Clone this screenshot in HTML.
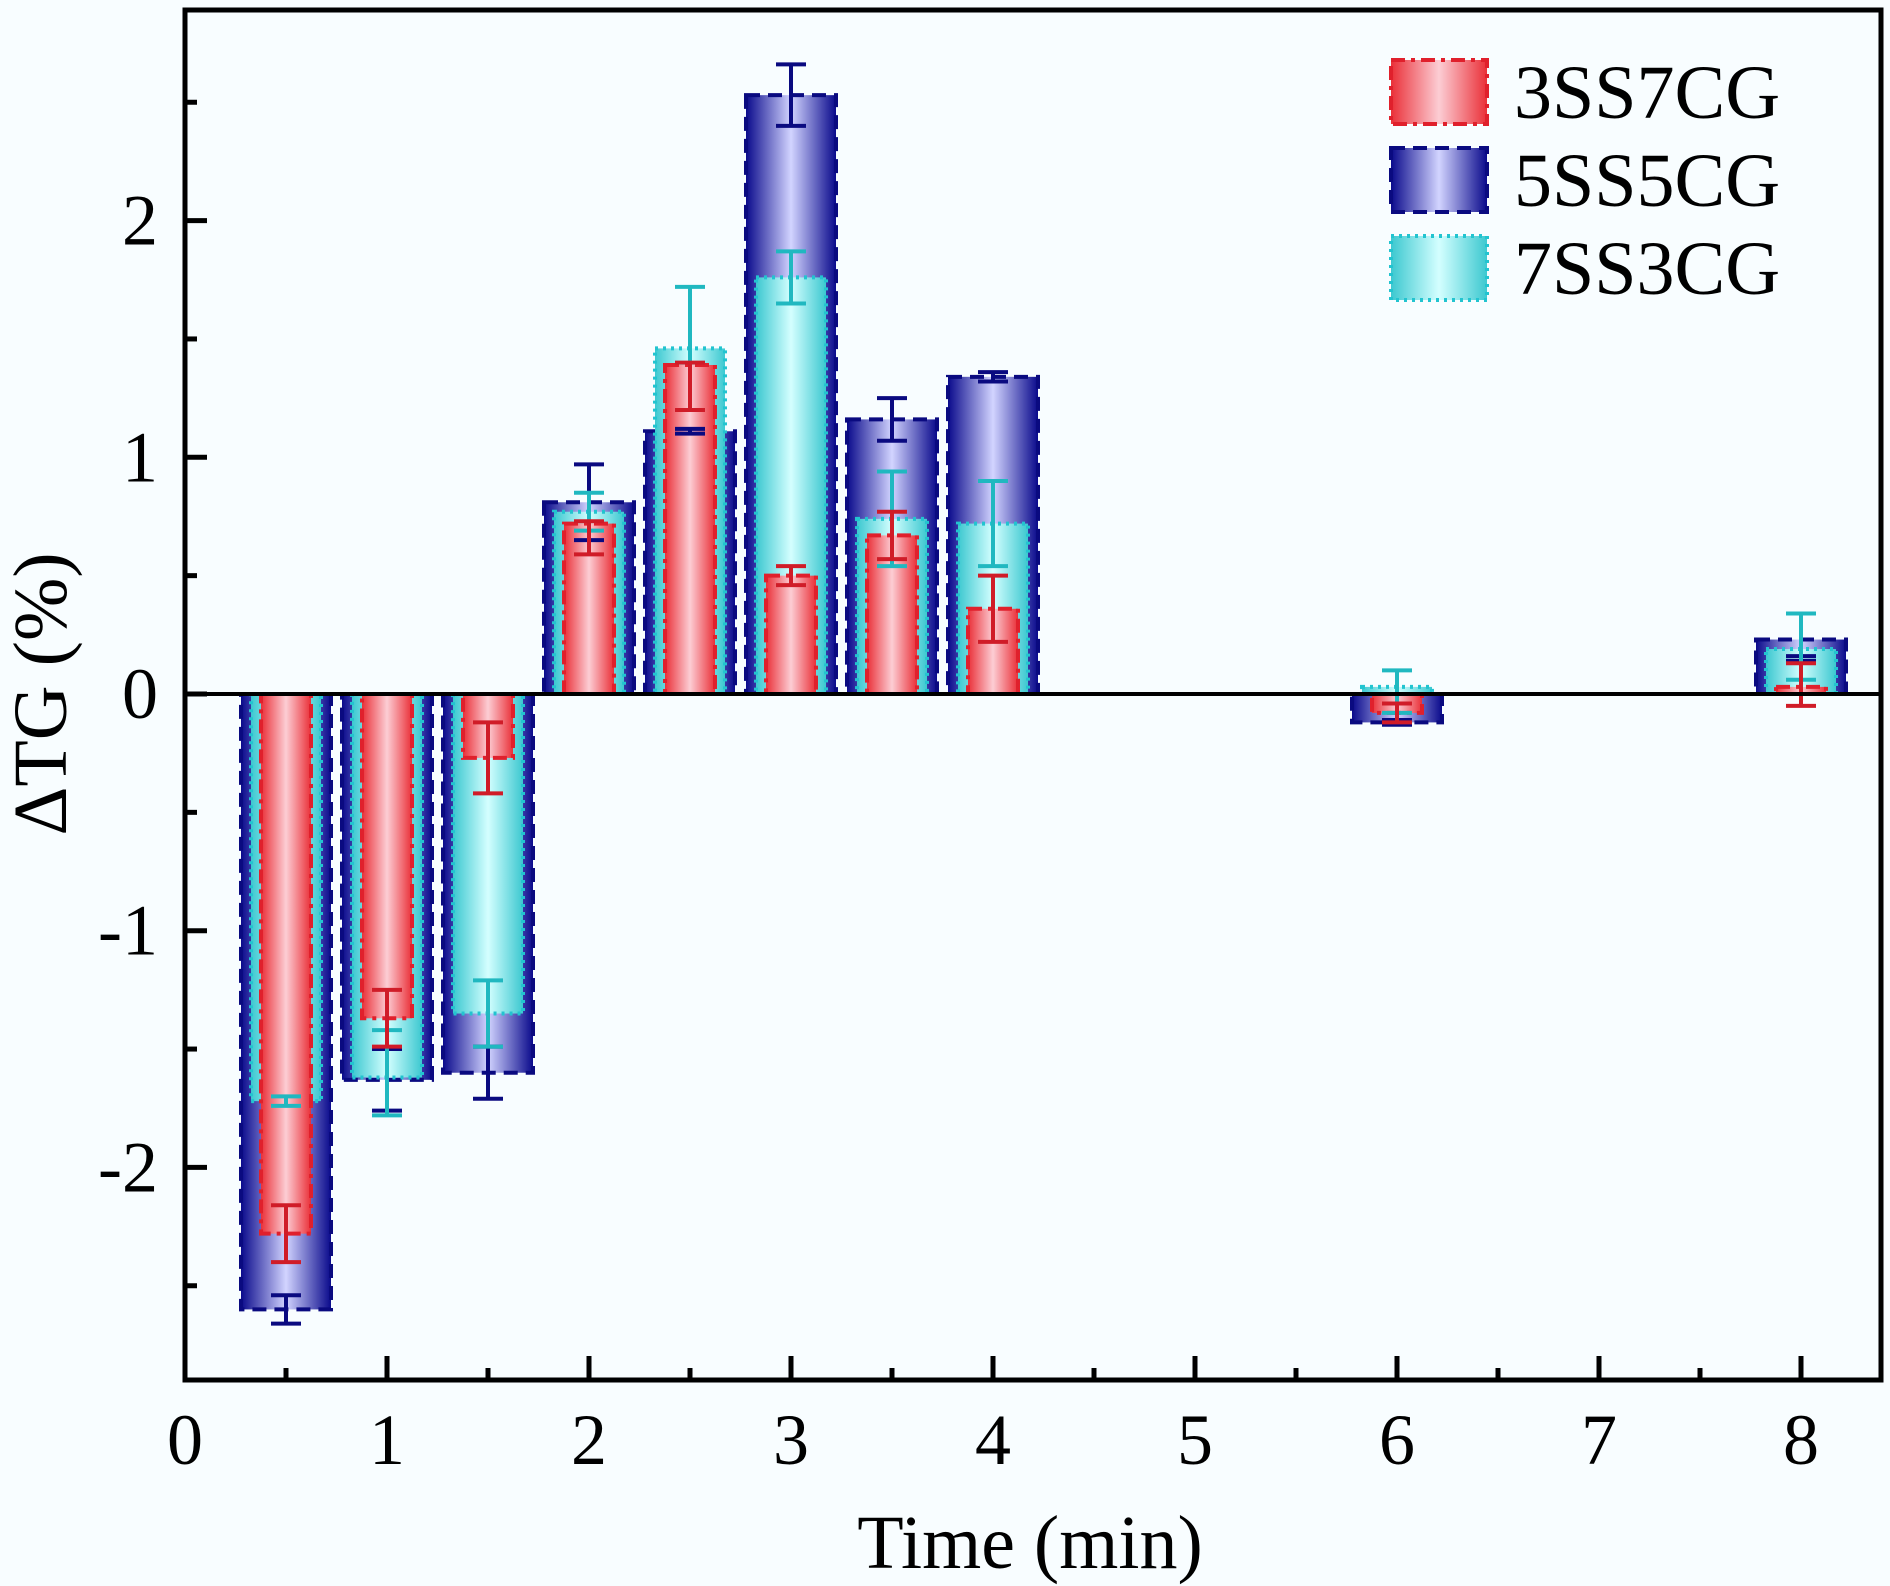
<!DOCTYPE html>
<html><head><meta charset="utf-8"><style>
html,body{margin:0;padding:0;background:#f8fdff;}
svg{display:block;}
text{font-family:"Liberation Serif",serif;fill:#000;}
</style></head><body>
<svg id="chart" width="1890" height="1586" viewBox="0 0 1890 1586" xmlns="http://www.w3.org/2000/svg">
<defs>
<linearGradient id="gBlue" x1="0" x2="1" y1="0" y2="0"><stop offset="0" stop-color="#0a0a8c"/><stop offset="0.5" stop-color="#d2d4ff"/><stop offset="1" stop-color="#0a0a8c"/></linearGradient>
<linearGradient id="gCyan" x1="0" x2="1" y1="0" y2="0"><stop offset="0" stop-color="#3cc8d0"/><stop offset="0.5" stop-color="#d4ffff"/><stop offset="1" stop-color="#3cc8d0"/></linearGradient>
<linearGradient id="gRed" x1="0" x2="1" y1="0" y2="0"><stop offset="0" stop-color="#ea3038"/><stop offset="0.5" stop-color="#fccdd4"/><stop offset="1" stop-color="#ea3038"/></linearGradient>
</defs>
<g id="bars"></g>
<g id="axes"></g>
</svg>
<script>
const categories = [0.5, 1, 1.5, 2, 2.5, 3, 3.5, 4, 6, 8];
const blueVals = [-2.60, -1.63, -1.60, 0.81, 1.11, 2.53, 1.16, 1.34, -0.12, 0.23];
const blueErr  = [0.06, 0.13, 0.11, 0.16, 0.01, 0.13, 0.09, 0.02, 0.01, 0.01];
const blueErrC = [-2.60, -1.63, -1.60, 0.81, 1.11, 2.53, 1.16, 1.34, -0.12, 0.15];
const cyanVals = [-1.72, -1.62, -1.35, 0.77, 1.46, 1.76, 0.74, 0.72, 0.03, 0.19];
const cyanErr  = [0.02, 0.18, 0.14, 0.08, 0.26, 0.11, 0.20, 0.18, 0.09, 0.14];
const cyanErrC = [-1.72, -1.60, -1.35, 0.77, 1.46, 1.76, 0.74, 0.72, 0.01, 0.20];
const redVals  = [-2.28, -1.37, -0.27, 0.72, 1.39, 0.50, 0.67, 0.36, -0.08, 0.03];
const redErr   = [0.12, 0.12, 0.15, 0.07, 0.10, 0.04, 0.10, 0.14, 0.04, 0.09];
const redErrC  = [-2.28, -1.37, -0.27, 0.66, 1.30, 0.50, 0.67, 0.36, -0.08, 0.04];
const xTicks = [0,1,2,3,4,5,6,7,8];
const yTicks = [-2,-1,0,1,2];
const seriesNames = ["3SS7CG","5SS5CG","7SS3CG"];

const L=185,R=1881,T=10,B=1380;
const X0=185, XU=202;
const Y0=694, YU=236.7;
function sx(v){return X0+v*XU;}
function sy(v){return Y0-v*YU;}
const NS="http://www.w3.org/2000/svg";
function mk(tag,attrs,parent){const e=document.createElementNS(NS,tag);for(const k in attrs)e.setAttribute(k,attrs[k]);parent.appendChild(e);return e;}
const bars=document.getElementById('bars');
const axes=document.getElementById('axes');

const series=[
 {key:'blue',vals:blueVals,err:blueErr,errC:blueErrC,w:90,fill:'url(#gBlue)',stroke:'#0a0a80',dash:'14 8',errColor:'#0a0a80'},
 {key:'cyan',vals:cyanVals,err:cyanErr,errC:cyanErrC,w:70,fill:'url(#gCyan)',stroke:'#22c4d0',dash:'3 5',errColor:'#20b8c0'},
 {key:'red',vals:redVals,err:redErr,errC:redErrC,w:50,fill:'url(#gRed)',stroke:'#e0202c',dash:'14 6 4 6',errColor:'#d01c28'}
];
series.forEach(s=>{
  categories.forEach((c,i)=>{
    const v=s.vals[i];
    const y1=Math.min(sy(v),sy(0)), h=Math.abs(sy(v)-sy(0));
    const r=mk('rect',{x:sx(c)-s.w/2,y:y1,width:s.w,height:h,fill:s.fill,stroke:s.stroke,'stroke-width':4,'stroke-dasharray':s.dash},bars);
    
    
  });
});
series.forEach(s=>{
  categories.forEach((c,i)=>{
    const cx=sx(c), ya=sy(s.errC[i]+s.err[i]), yb=sy(s.errC[i]-s.err[i]);
    const g=mk('g',{stroke:s.errColor,'stroke-width':4},bars);
    
    
    mk('line',{x1:cx,x2:cx,y1:ya,y2:yb},g);
    mk('line',{x1:cx-15,x2:cx+15,y1:ya,y2:ya},g);
    mk('line',{x1:cx-15,x2:cx+15,y1:yb,y2:yb},g);
  });
});
// zero line
const zl=mk('line',{x1:L,x2:R,y1:sy(0),y2:sy(0),stroke:'#000','stroke-width':4},axes);


// frame
const fr=mk('rect',{x:L,y:T,width:R-L,height:B-T,fill:'none',stroke:'#000','stroke-width':5},axes);


// x ticks
xTicks.forEach(t=>{
  const x=sx(t);
  const tk=mk('line',{x1:x,x2:x,y1:B,y2:B-24,stroke:'#000','stroke-width':5},axes);
  
  
  if(t<8){
    const mn=mk('line',{x1:sx(t+0.5),x2:sx(t+0.5),y1:B,y2:B-12,stroke:'#000','stroke-width':5},axes);
    
    
  }
  const lb=mk('text',{x:x,y:1464,'font-size':72,'text-anchor':'middle'},axes);
  lb.textContent=t;
  
  
});
// y ticks
yTicks.forEach(t=>{
  const y=sy(t);
  const tk=mk('line',{x1:L,x2:L+22,y1:y,y2:y,stroke:'#000','stroke-width':5},axes);
  
  
  const lb=mk('text',{x:158,y:y+24,'font-size':72,'text-anchor':'end'},axes);
  lb.textContent=t;
  
  
});
[-2.5,-1.5,-0.5,0.5,1.5,2.5].forEach(t=>{
  const mn=mk('line',{x1:L,x2:L+12,y1:sy(t),y2:sy(t),stroke:'#000','stroke-width':5},axes);
  
  
});
// axis titles
const xt=mk('text',{x:1030,y:1568,'font-size':76,'text-anchor':'middle'},axes);
xt.textContent='Time (min)';


const yt=mk('text',{x:0,y:0,'font-size':76,'text-anchor':'middle',transform:'translate(66,694) rotate(-90)'},axes);
yt.textContent='\u0394TG (%)';


// legend
const leg=[{fill:'url(#gRed)',stroke:'#e0202c',dash:'14 6 4 6',y:60},{fill:'url(#gBlue)',stroke:'#0a0a80',dash:'14 8',y:148},{fill:'url(#gCyan)',stroke:'#22c4d0',dash:'3 5',y:236}];
leg.forEach((l,i)=>{
  const g=mk('g',{},axes);
  
  
  mk('rect',{x:1391,y:l.y,width:96,height:64,fill:l.fill,stroke:l.stroke,'stroke-width':4,'stroke-dasharray':l.dash},g);
  const tx=mk('text',{x:1514,y:l.y+58,'font-size':76},g);
  tx.textContent=seriesNames[i];
});
</script>
</body></html>
